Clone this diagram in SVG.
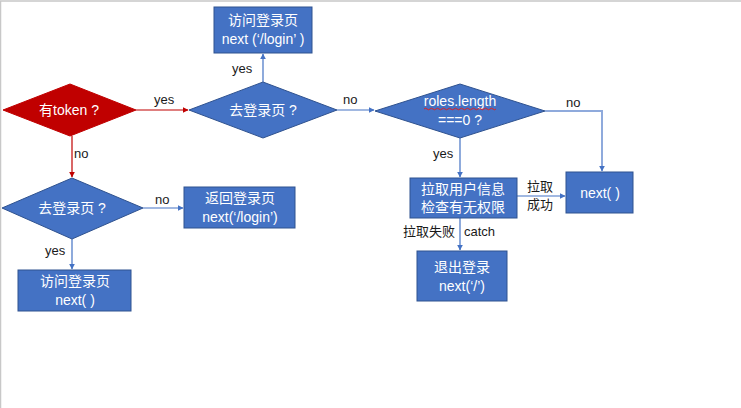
<svg xmlns="http://www.w3.org/2000/svg" width="741" height="408" viewBox="0 0 741 408">
<style>
.box{fill:#4472c4;stroke:#2f528f;stroke-width:1}
.red{fill:#c00000;stroke:#c00000;stroke-width:1}
.t{font-family:"Liberation Sans","Noto Sans CJK SC",sans-serif;font-size:14px;fill:#fff;text-anchor:middle}
.l{font-family:"Liberation Sans","Noto Sans CJK SC",sans-serif;font-size:13px;fill:#1a1a1a}
.cb{fill:none;stroke:#4472c4;stroke-width:1.2}
.cr{fill:none;stroke:#c00000;stroke-width:1.2}
.cl{fill:none;stroke:#8faadc;stroke-width:2}
</style>
<defs>
<marker id="ab" viewBox="0 0 10 10" refX="9" refY="5" markerWidth="6" markerHeight="6" markerUnits="userSpaceOnUse" orient="auto"><path d="M0,0L10,5L0,10z" fill="#4472c4"/></marker>
<marker id="ar" viewBox="0 0 10 10" refX="9" refY="5" markerWidth="6" markerHeight="6" markerUnits="userSpaceOnUse" orient="auto"><path d="M0,0L10,5L0,10z" fill="#c00000"/></marker>
<marker id="al" viewBox="0 0 10 10" refX="9" refY="5" markerWidth="6" markerHeight="6" markerUnits="userSpaceOnUse" orient="auto"><path d="M0,0L10,5L0,10z" fill="#4472c4"/></marker>
</defs>
<rect width="741" height="408" fill="#fff"/>
<path d="M0.5,408V1H741" fill="none" stroke="#c8c8c8" stroke-width="1.5"/>

<g id="connectors">
<path class="cr" d="M136,110H188" marker-end="url(#ar)"/>
<path class="cr" d="M72,136V177" marker-end="url(#ar)"/>
<path class="cb" d="M263,82V54" marker-end="url(#ab)"/>
<path class="cb" d="M337,110H374" marker-end="url(#ab)"/>
<path class="cl" d="M545,111H602V171" marker-end="url(#al)"/>
<path class="cb" d="M460,138V177" marker-end="url(#ab)"/>
<path class="cb" d="M517,196H565" marker-end="url(#ab)"/>
<path class="cb" d="M460,218V250" marker-end="url(#ab)"/>
<path class="cb" d="M143,208H183" marker-end="url(#ab)"/>
<path class="cb" d="M72,239V269" marker-end="url(#ab)"/>
<text class="l" x="154" y="104">yes</text>
<text class="l" x="74" y="158">no</text>
<text class="l" x="232" y="73">yes</text>
<text class="l" x="343" y="104">no</text>
<text class="l" x="566" y="107">no</text>
<text class="l" x="433" y="158">yes</text>
<text class="l" x="527" y="191">拉取</text>
<text class="l" x="527" y="209">成功</text>
<text class="l" x="403" y="236">拉取失败</text>
<text class="l" x="464" y="236">catch</text>
<text class="l" x="155" y="204">no</text>
<text class="l" x="45" y="255">yes</text>
</g>

<g id="hasToken">
<polygon class="red" points="3,110 70,84 136,110 70,136"/>
<text class="t" x="69" y="115">有token ?</text>
</g>

<g id="goLogin1">
<polygon class="box" points="189,110 263,82 337,110 263,138"/>
<text class="t" x="263" y="115">去登录页 ?</text>
</g>

<g id="visitLogin1">
<rect class="box" x="214" y="7" width="98" height="46"/>
<text class="t" x="263" y="25">访问登录页</text>
<text class="t" x="263" y="44">next (‘/login’ )</text>
</g>

<g id="rolesCheck">
<polygon class="box" points="375,111 460,84 545,111 460,138"/>
<text class="t" x="460" y="106">roles.length</text>
<path d="M424,109q1.5,-1.5 3,0t3,0t3,0t3,0t3,0t3,0t3,0t3,0t3,0t3,0t3,0t3,0t3,0t3,0t3,0t3,0t3,0t3,0t3,0t3,0t3,0t3,0t3,0t3,0" fill="none" stroke="#e02020" stroke-width="1"/>
<text class="t" x="460" y="125">===0 ?</text>
</g>

<g id="fetchUser">
<rect class="box" x="410" y="178" width="107" height="40"/>
<text class="t" x="463" y="194">拉取用户信息</text>
<text class="t" x="463" y="212">检查有无权限</text>
</g>

<g id="next1">
<rect class="box" x="566" y="172" width="67" height="41"/>
<text class="t" x="600" y="198">next( )</text>
</g>

<g id="logout">
<rect class="box" x="417" y="251" width="90" height="50"/>
<text class="t" x="462" y="272">退出登录</text>
<text class="t" x="462" y="291">next(‘/’)</text>
</g>

<g id="goLogin2">
<polygon class="box" points="2,208 72,178 143,208 72,239"/>
<text class="t" x="72" y="213">去登录页 ?</text>
</g>

<g id="backLogin">
<rect class="box" x="184" y="187" width="111" height="41"/>
<text class="t" x="240" y="203">返回登录页</text>
<text class="t" x="240" y="222">next(‘/login’)</text>
</g>

<g id="visitLogin2">
<rect class="box" x="18" y="270" width="113" height="41"/>
<text class="t" x="75" y="286">访问登录页</text>
<text class="t" x="75" y="305">next( )</text>
</g>
</svg>
